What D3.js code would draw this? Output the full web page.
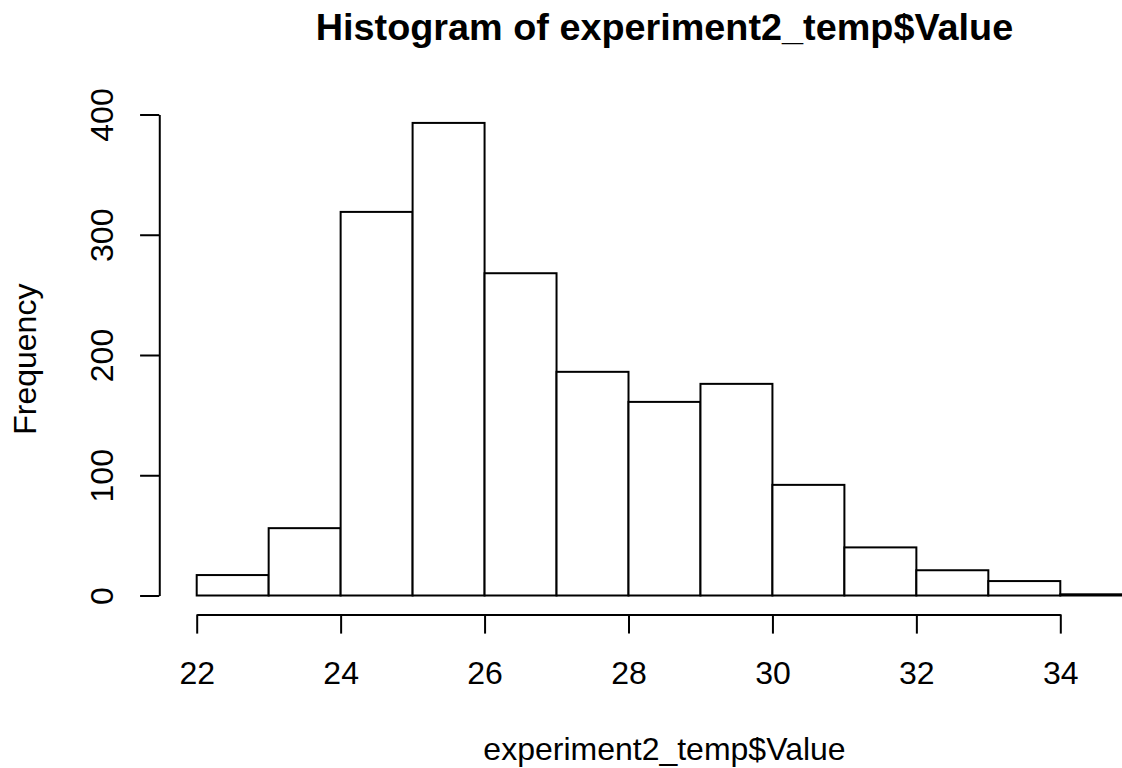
<!DOCTYPE html>
<html>
<head>
<meta charset="utf-8">
<script src="https://cdn.jsdelivr.net/npm/d3@7"></script>
<style>
  html, body { margin: 0; padding: 0; background: #fff; }
  svg { display: block; }
  text { font-family: "Liberation Sans", Arial, Helvetica, sans-serif; fill: #000; }
</style>
</head>
<body>
<svg id="chart" width="1122" height="768"></svg>
<script>
// Histogram bins (1-unit wide) and their counts
const binStarts = [22, 23, 24, 25, 26, 27, 28, 29, 30, 31, 32, 33, 34];
const binWidth = 1;
const counts = [17, 56, 319, 393, 268, 186, 161, 176, 92, 40, 21, 12, 1];
const xTicks = [22, 24, 26, 28, 30, 32, 34];
const yTicks = [0, 100, 200, 300, 400];

const titleText = "Histogram of experiment2_temp$Value";
const xLabel = "experiment2_temp$Value";
const yLabel = "Frequency";

const W = 1122, H = 768;
const axisFont = 32, titleFont = 37.8, lineH = 38.4;
const lw = 2;

const svg = d3.select("#chart");

const x = d3.scaleLinear().domain([22, 34]).range([196.7, 1060.3]);
const y = d3.scaleLinear().domain([0, 400]).range([595.5, 114.5]);

// plot region (data range padded by 4% on each side)
const xDom = [binStarts[0], binStarts[binStarts.length - 1] + binWidth];
const xPad = (xDom[1] - xDom[0]) * 0.04;
const yMax = d3.max(counts);
const yPad = yMax * 0.04;
const plotLeft = x(xDom[0] - xPad), plotRight = x(xDom[1] + xPad);
const plotBottom = y(-yPad), plotTop = y(yMax + yPad);
const plotCx = (plotLeft + plotRight) / 2;
const plotCy = (plotTop + plotBottom) / 2;

// bars
svg.append("g")
  .selectAll("rect")
  .data(binStarts.map((s, i) => ({ s, c: counts[i] })))
  .join("rect")
  .attr("x", d => x(d.s))
  .attr("y", d => y(d.c))
  .attr("width", d => x(d.s + binWidth) - x(d.s))
  .attr("height", d => y(0) - y(d.c))
  .attr("fill", "#fff")
  .attr("stroke", "#000")
  .attr("stroke-width", lw);

const tickLen = lineH * 0.5;

// x axis
const gx = svg.append("g")
  .attr("transform", `translate(0,${plotBottom})`)
  .call(d3.axisBottom(x).tickValues(xTicks).tickFormat(d3.format("d"))
    .tickSizeInner(tickLen).tickSizeOuter(0));
gx.select(".domain").attr("stroke-width", lw);
gx.selectAll(".tick line").attr("stroke-width", lw);
gx.selectAll(".tick text")
  .attr("y", lineH * 1.8).attr("dy", null)
  .attr("font-size", axisFont)
  .attr("font-family", "Liberation Sans, Arial, sans-serif");

// y axis
const gy = svg.append("g")
  .attr("transform", `translate(${plotLeft},0)`)
  .call(d3.axisLeft(y).tickValues(yTicks).tickFormat(d3.format("d"))
    .tickSizeInner(tickLen).tickSizeOuter(0));
gy.select(".domain").attr("stroke-width", lw);
gy.selectAll(".tick line").attr("stroke-width", lw);
gy.selectAll(".tick text")
  .attr("x", null).attr("dy", null)
  .attr("text-anchor", "middle")
  .attr("transform", `translate(${-lineH * 1.2},0) rotate(-90)`)
  .attr("font-size", axisFont)
  .attr("font-family", "Liberation Sans, Arial, sans-serif");

// title and axis labels
svg.append("text")
  .attr("x", plotCx).attr("y", 39.5)
  .attr("text-anchor", "middle")
  .attr("font-size", titleFont)
  .attr("font-weight", "bold")
  .text(titleText);

svg.append("text")
  .attr("x", plotCx).attr("y", plotBottom + lineH * 3.8)
  .attr("text-anchor", "middle")
  .attr("font-size", axisFont)
  .text(xLabel);

svg.append("text")
  .attr("transform", `translate(${plotLeft - lineH * 3.2},${plotCy}) rotate(-90)`)
  .attr("text-anchor", "middle")
  .attr("font-size", axisFont)
  .text(yLabel);
</script>
</body>
</html>
